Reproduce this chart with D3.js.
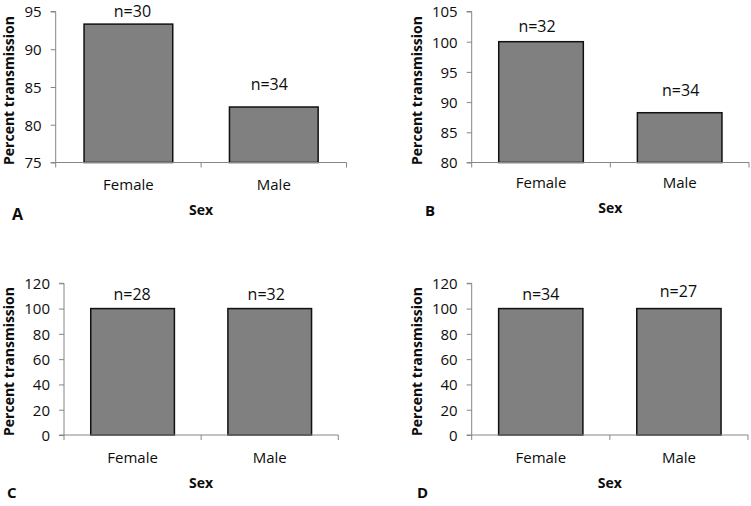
<!DOCTYPE html>
<html><head><meta charset="utf-8">
<script src="https://cdn.jsdelivr.net/npm/d3@7"></script>
<style>body{margin:0;background:#fff}svg{display:block}text{font-family:"Open Sans",sans-serif;fill:#0d0d0d}</style>
</head><body>
<script>
const categories = ["Female", "Male"];
const panelLabels = ["A", "B", "C", "D"];
const valuesA = [93.33, 82.35];
const valuesB = [100, 88.24];
const valuesC = [100, 100];
const valuesD = [100, 100];
const nA = ["n=30", "n=34"];
const nB = ["n=32", "n=34"];
const nC = ["n=28", "n=32"];
const nD = ["n=34", "n=27"];
const ticksA = [75, 80, 85, 90, 95];
const ticksB = [80, 85, 90, 95, 100, 105];
const ticksC = [0, 20, 40, 60, 80, 100, 120];
const ticksD = [0, 20, 40, 60, 80, 100, 120];
const xTitle = "Sex";
const yTitle = "Percent transmission";

const W = 751, H = 506;
const svg = d3.select("body").append("svg").attr("width", W).attr("height", H);

// layout only (positions / offsets), values come from the arrays above
const panels = [
  {values: valuesA, ns: nA, ticks: ticksA, label: panelLabels[0],
   x0: 55.7, x1: 346.5, yTop: 11.5, yBot: 162.5, yTitleX: 9, yTitleY: 90.5,
   labelX: 12, labelY: 220, labelSize: 16, catY: 190, sexY: 215,
   nDx: [4, -4.5], nDy: [7.3, 17.5]},
  {values: valuesB, ns: nB, ticks: ticksB, label: panelLabels[1],
   x0: 471.7, x1: 749, yTop: 11.5, yBot: 162.5, yTitleX: 416.7, yTitleY: 90.5,
   labelX: 425, labelY: 216, labelSize: 15, catY: 188, sexY: 213,
   nDx: [-4, 1], nDy: [10, 17]},
  {values: valuesC, ns: nC, ticks: ticksC, label: panelLabels[2],
   x0: 64, x1: 338.3, yTop: 283.3, yBot: 435, yTitleX: 9, yTitleY: 361.5,
   labelX: 7, labelY: 498, labelSize: 15, catY: 462.5, sexY: 488,
   nDx: [-0.5, -3.5], nDy: [9, 9]},
  {values: valuesD, ns: nD, ticks: ticksD, label: panelLabels[3],
   x0: 471.7, x1: 748, yTop: 283.3, yBot: 435, yTitleX: 416.7, yTitleY: 361.5,
   labelX: 417, labelY: 498, labelSize: 15, catY: 462.5, sexY: 488,
   nDx: [0, -0.5], nDy: [9, 11.6]}
];

panels.forEach(p => {
  const g = svg.append("g");
  const y = d3.scaleLinear().domain([p.ticks[0], p.ticks[p.ticks.length - 1]]).range([p.yBot, p.yTop]);
  const x = d3.scaleBand().domain(categories).range([p.x0, p.x1]).paddingInner(0.39).paddingOuter(0.195);
  const xb = d3.scaleBand().domain(categories).range([p.x0, p.x1]);

  // y axis
  const ya = g.append("g").attr("transform", `translate(${p.x0},0)`)
    .call(d3.axisLeft(y).tickValues(p.ticks).tickSize(5).tickPadding(9).tickFormat(d3.format("d")));
  ya.select(".domain").attr("stroke", "#868686").attr("d", `M-5,${p.yBot}H0V${p.yTop}H-5`);
  ya.selectAll(".tick line").attr("stroke", "#868686");
  ya.selectAll(".tick text").attr("font-size", "15px").attr("fill", "#0d0d0d").attr("dy", "0.36em");

  // bars
  g.selectAll("rect.bar").data(p.values).join("rect")
    .attr("x", (d, i) => x(categories[i]))
    .attr("width", x.bandwidth())
    .attr("y", d => y(d))
    .attr("height", d => p.yBot - y(d))
    .attr("fill", "#808080").attr("stroke", "#111").attr("stroke-width", 1.5);

  // x axis line with ticks at category boundaries
  g.append("line").attr("x1", p.x0).attr("x2", p.x1).attr("y1", p.yBot).attr("y2", p.yBot)
    .attr("stroke", "#868686").attr("stroke-width", 1);
  const bounds = [p.x0, xb(categories[1]), p.x1];
  g.selectAll("line.xt").data(bounds).join("line")
    .attr("x1", d => d).attr("x2", d => d).attr("y1", p.yBot).attr("y2", p.yBot + 5)
    .attr("stroke", "#868686");

  // category labels
  g.selectAll("text.cat").data(categories).join("text")
    .attr("x", d => xb(d) + xb.bandwidth() / 2).attr("y", p.catY)
    .attr("text-anchor", "middle").attr("font-size", "15px").text(d => d);

  // n labels
  g.selectAll("text.n").data(p.values).join("text")
    .attr("x", (d, i) => x(categories[i]) + x.bandwidth() / 2 + p.nDx[i])
    .attr("y", (d, i) => y(d) - p.nDy[i])
    .attr("text-anchor", "middle").attr("font-size", "16px").text((d, i) => p.ns[i]);

  // x title
  g.append("text").attr("x", (p.x0 + p.x1) / 2).attr("y", p.sexY)
    .attr("text-anchor", "middle").attr("font-size", "14px").attr("font-weight", "bold").text(xTitle);

  // y title
  g.append("text").attr("transform", `translate(${p.yTitleX},${p.yTitleY}) rotate(-90)`)
    .attr("text-anchor", "middle").attr("dy", "0.35em")
    .attr("font-size", "14px").attr("font-weight", "bold").text(yTitle);

  // panel letter
  g.append("text").attr("x", p.labelX).attr("y", p.labelY)
    .attr("font-size", p.labelSize + "px").attr("font-weight", "bold").text(p.label);
});
</script>
</body></html>
